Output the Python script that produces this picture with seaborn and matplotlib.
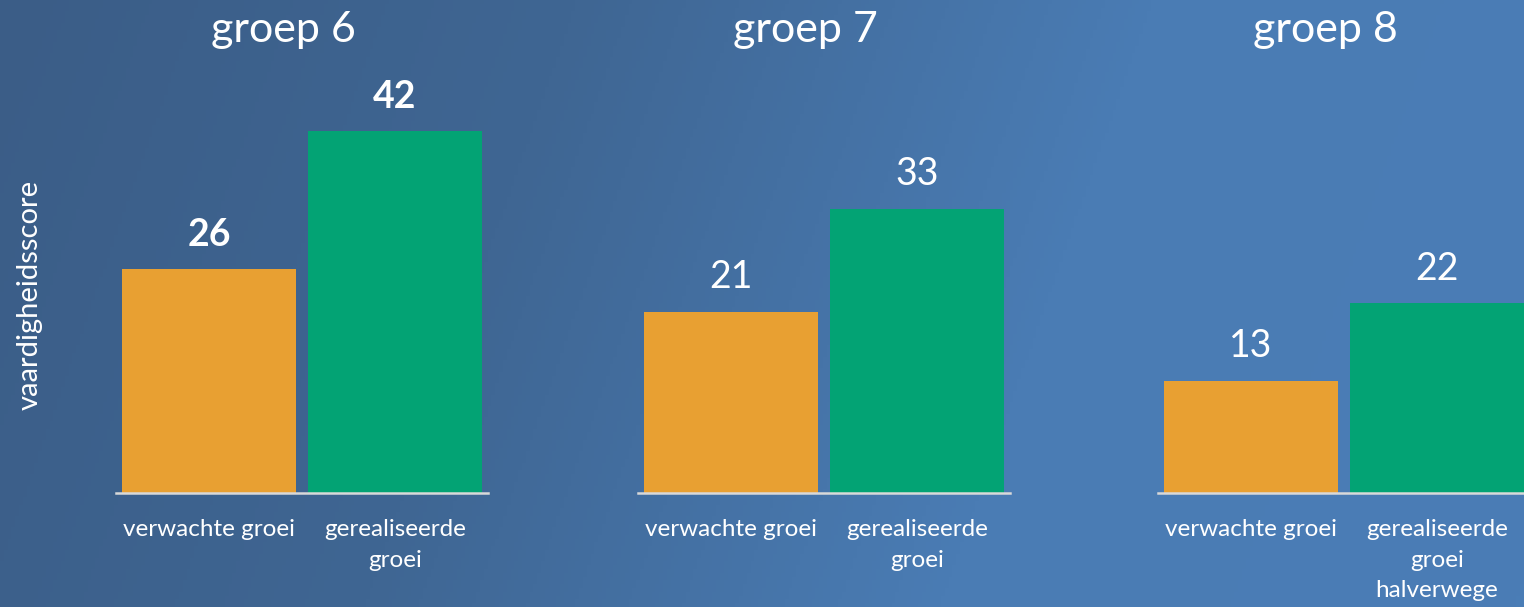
import numpy as np
import pandas as pd
import matplotlib
matplotlib.use("Agg")
import matplotlib.pyplot as plt
from matplotlib.colors import LinearSegmentedColormap
import seaborn as sns

# data
groepen = ["groep 6", "groep 7", "groep 8"]
verwacht = [26, 21, 13]
gerealiseerd = [42, 33, 22]
labels_gerealiseerd = ["gerealiseerde\ngroei", "gerealiseerde\ngroei", "gerealiseerde\ngroei\nhalverwege"]
label_verwacht = "verwachte groei"
bold_labels = [True, False, False]

oranje = "#E8A032"
groen = "#03A374"

sns.set_style("white")
plt.rcParams["font.family"] = ["Lato", "DejaVu Sans"]

fig = plt.figure(figsize=(15.24, 6.07), dpi=100)

# background gradient
bg = fig.add_axes([0, 0, 1, 1], zorder=-10)
xx, yy = np.meshgrid(np.linspace(0, 1, 400), np.linspace(0, 1, 160))
t = (xx * 1524 + 0.35 * yy * 607) / (1524 + 0.35 * 607)
cmap = LinearSegmentedColormap.from_list("bg", ["#3b5d87", "#3f6693", "#4a7cb4", "#4a7db6"], N=256)
bg.imshow(t, cmap=cmap, aspect="auto", extent=[0, 1, 1, 0], vmin=0, vmax=1)
bg.axis("off")

lefts = [116, 638, 1158]
for i, g in enumerate(groepen):
    df = pd.DataFrame({
        "cat": [label_verwacht, labels_gerealiseerd[i]],
        "waarde": [verwacht[i], gerealiseerd[i]],
    })
    ax = fig.add_axes([lefts[i] / 1524, 114 / 607, 372 / 1524, 431 / 607])
    ax.set_facecolor("none")
    sns.barplot(data=df, x="cat", y="waarde", hue="cat",
                palette=[oranje, groen], saturation=1, width=0.94,
                linewidth=0, edgecolor="none", legend=False, ax=ax)
    ax.set_xlim(-0.5, 1.5)
    ax.set_ylim(0, 50)
    for s in ["top", "left", "right"]:
        ax.spines[s].set_visible(False)
    ax.spines["bottom"].set_color("#d9d9d9")
    ax.spines["bottom"].set_linewidth(1.8)
    ax.set_yticks([])
    ax.set_xlabel("")
    ax.set_ylabel("")
    ax.tick_params(axis="x", length=0, pad=19, labelsize=17.5, labelcolor="white")
    for lab in ax.get_xticklabels():
        lab.set_linespacing(1.55)
        lab.set_verticalalignment("top")
    for c in ax.containers:
        ax.bar_label(c, padding=12, color="white", fontsize=27,
                     fontweight="bold" if bold_labels[i] else "normal")
    ax.text(0.45, 1.074, g, transform=ax.transAxes, ha="center", va="center",
            color="white", fontsize=31)

fig.text(30 / 1524, 1 - 295 / 607, "vaardigheidsscore", rotation=90,
         ha="center", va="center", color="white", fontsize=21)

fig.savefig("out.png", dpi=100)
